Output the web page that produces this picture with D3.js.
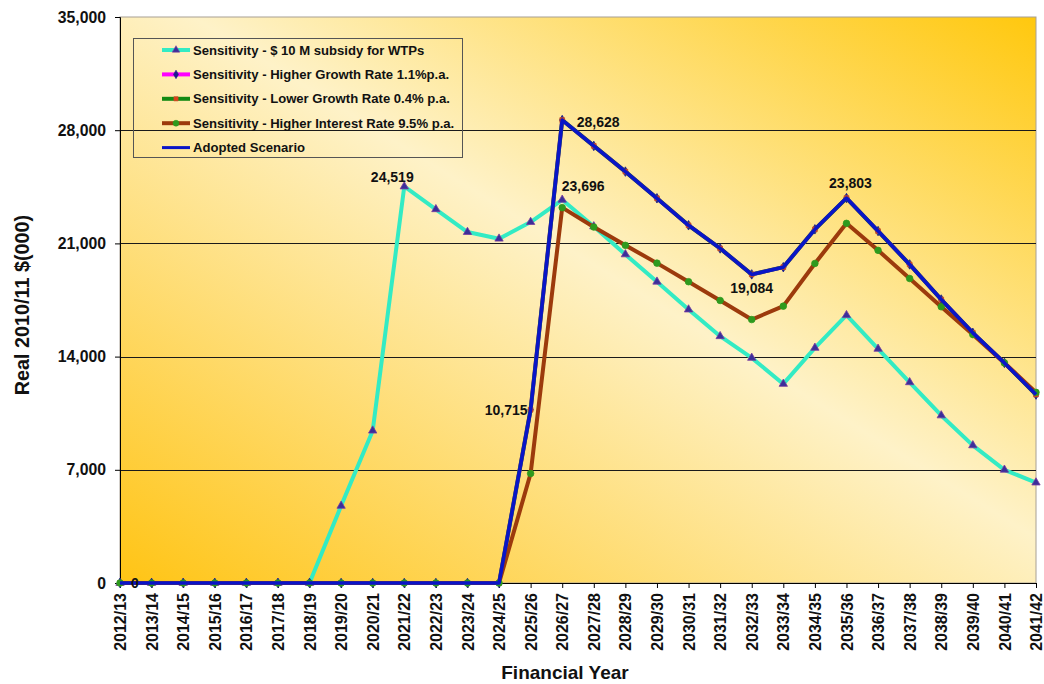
<!DOCTYPE html>
<html>
<head>
<meta charset="utf-8">
<script src="https://cdn.jsdelivr.net/npm/d3@7"></script>
<style>
  body { margin: 0; background: #ffffff; }
  svg { display: block; font-family: "Liberation Sans", Arial, sans-serif; }
</style>
</head>
<body>
<svg id="chart" width="1044" height="684"></svg>
<script>
// Financial years on the x axis
const years = ["2012/13","2013/14","2014/15","2015/16","2016/17","2017/18","2018/19","2019/20",
  "2020/21","2021/22","2022/23","2023/24","2024/25","2025/26","2026/27","2027/28","2028/29",
  "2029/30","2030/31","2031/32","2032/33","2033/34","2034/35","2035/36","2036/37","2037/38",
  "2038/39","2039/40","2040/41","2041/42"];

const yTicks = [0, 7000, 14000, 21000, 28000, 35000];

// Real 2010/11 $(000) per scenario
const subsidyWTP = [0,0,0,0,0,0,0,4770,9420,24519,23110,21700,21290,22320,23696,22050,20320,
  18630,16910,15260,13920,12310,14540,16560,14480,12410,10360,8510,7000,6210];
const higherGrowth = [0,0,0,0,0,0,0,0,0,0,0,0,0,10715,28628,27030,25440,23790,22120,20690,
  19084,19530,21870,23803,21760,19700,17530,15470,13610,11650];
const lowerGrowth = [0,0,0,0,0,0,0,0,0,0,0,0,0,10715,28628,27030,25440,23790,22120,20690,
  19084,19530,21870,23803,21760,19700,17530,15470,13610,11650];
const higherInterest = [0,0,0,0,0,0,0,0,0,0,0,0,0,6770,23210,22010,20880,19780,18630,17470,
  16290,17120,19760,22240,20570,18830,17080,15360,13610,11790];
const adopted = [0,0,0,0,0,0,0,0,0,0,0,0,0,10715,28628,27030,25440,23790,22120,20690,
  19084,19530,21870,23803,21760,19700,17530,15470,13610,11650];

const seriesNames = [
  "Sensitivity - $ 10 M subsidy for WTPs",
  "Sensitivity - Higher Growth Rate 1.1%p.a.",
  "Sensitivity - Lower Growth Rate 0.4% p.a.",
  "Sensitivity - Higher Interest Rate 9.5% p.a.",
  "Adopted Scenario"
];

const series = [
  { name: seriesNames[0], values: subsidyWTP, line: "#33EBC4", width: 4, marker: "triangle", mFill: "#3a2f9a", mStroke: "#7a3aa0" },
  { name: seriesNames[1], values: higherGrowth, line: "#FF00FF", width: 4, marker: "diamond", mFill: "#1a1a8c", mStroke: "#1a1a8c" },
  { name: seriesNames[2], values: lowerGrowth, line: "#138A13", width: 4, marker: "square", mFill: "#E0401A", mStroke: "#C0502a" },
  { name: seriesNames[3], values: higherInterest, line: "#9C3A0C", width: 4, marker: "circle", mFill: "#2E9A1E", mStroke: "#2E9A1E" },
  { name: seriesNames[4], values: adopted, line: "#0A14C8", width: 3.6, marker: null }
];

// Value labels on selected points: [series index, category, value, dx, dy, anchor]
const pointLabels = [
  [0, "2021/22", 24519, -12, -4, "middle"],
  [0, "2026/27", 23696, 21, -9, "middle"],
  [4, "2026/27", 28628, 36, 7, "middle"],
  [4, "2032/33", 19084, 0, 19, "middle"],
  [4, "2035/36", 23803, 4, -10, "middle"],
  [4, "2025/26", 10715, -3, 5, "end"],
  [4, "2012/13", 0, 11, 5, "start"]
];

const svg = d3.select("#chart");
const margin = { left: 120, top: 17, right: 8, bottom: 101 };
const W = 1044, H = 684;
const iw = W - margin.left - margin.right;
const ih = H - margin.top - margin.bottom;

const x = d3.scalePoint().domain(years).range([0, iw]).padding(0);
const y = d3.scaleLinear().domain([0, 35000]).range([ih, 0]);

// Plot area background
const defs = svg.append("defs");
const grad = defs.append("linearGradient").attr("id", "plotFill")
  .attr("x1", 0).attr("y1", 1).attr("x2", 1).attr("y2", 0);
grad.append("stop").attr("offset", 0).attr("stop-color", "#FFC414");
grad.append("stop").attr("offset", 0.54).attr("stop-color", "#FEF2C8");
grad.append("stop").attr("offset", 1).attr("stop-color", "#FFC80E");

const g = svg.append("g").attr("transform", `translate(${margin.left},${margin.top})`);

g.append("rect").attr("width", iw).attr("height", ih)
  .attr("fill", "url(#plotFill)").attr("stroke", "#a8a094").attr("stroke-width", 1);

// Horizontal gridlines
g.append("g").selectAll("line").data(yTicks.filter(d => d > 0 && d < 35000)).join("line")
  .attr("x1", 0).attr("x2", iw)
  .attr("y1", d => Math.round(y(d)) + 0.5).attr("y2", d => Math.round(y(d)) + 0.5)
  .attr("stroke", "#1a1a1a").attr("stroke-width", 1);

// Y axis
const yAxis = g.append("g")
  .call(d3.axisLeft(y).tickValues(yTicks).tickSize(5).tickPadding(9).tickFormat(d3.format(",")));
yAxis.select(".domain").attr("stroke", "#000");
yAxis.selectAll(".tick line").attr("stroke", "#000");
yAxis.selectAll("text").attr("font-size", 15.8).attr("font-weight", "bold").attr("fill", "#111")
  .attr("font-family", "Liberation Sans, Arial, sans-serif");

// X axis
const xAxis = g.append("g").attr("transform", `translate(0,${ih})`)
  .call(d3.axisBottom(x).tickSize(5).tickPadding(0));
xAxis.select(".domain").attr("stroke", "#000");
xAxis.selectAll(".tick line").attr("stroke", "#000");
xAxis.selectAll("text")
  .attr("font-size", 16).attr("font-weight", "bold").attr("fill", "#111")
  .attr("font-family", "Liberation Sans, Arial, sans-serif")
  .attr("transform", "translate(0,10) rotate(-90)")
  .attr("text-anchor", "end").attr("dx", 0).attr("dy", "0.35em").attr("y", 0);

// Axis titles
svg.append("text").attr("x", 565).attr("y", 679)
  .attr("text-anchor", "middle").attr("font-size", 19).attr("font-weight", "bold")
  .attr("fill", "#111").text("Financial Year");
svg.append("text").attr("transform", "translate(29,305) rotate(-90)")
  .attr("text-anchor", "middle").attr("font-size", 19.8).attr("font-weight", "bold")
  .attr("fill", "#111").text("Real 2010/11 $(000)");

// Marker drawing helper
const symbolOf = { triangle: d3.symbolTriangle, diamond: d3.symbolDiamond, square: d3.symbolSquare, circle: d3.symbolCircle };
const sizeOf = { triangle: 30, diamond: 26, square: 22, circle: 34 };

function drawMarkers(sel, s, pts) {
  sel.selectAll("path.m").data(pts).join("path").attr("class", "m")
    .attr("transform", d => `translate(${x(d.year)},${y(d.v)})`)
    .attr("d", d3.symbol().type(symbolOf[s.marker]).size(sizeOf[s.marker]))
    .attr("fill", s.mFill).attr("stroke", s.mStroke).attr("stroke-width", 0.8);
}

const lineGen = d3.line().x(d => x(d.year)).y(d => y(d.v));

series.forEach(s => {
  const pts = years.map((yr, i) => ({ year: yr, v: s.values[i] }));
  const sg = g.append("g");
  sg.append("path").datum(pts).attr("d", lineGen)
    .attr("fill", "none").attr("stroke", s.line).attr("stroke-width", s.width)
    .attr("stroke-linejoin", "round");
  if (s.marker) drawMarkers(sg, s, pts);
});

// Point value labels
const fmt = d3.format(",");
g.append("g").selectAll("text").data(pointLabels).join("text")
  .attr("x", d => x(d[1]) + d[3]).attr("y", d => y(d[2]) + d[4])
  .attr("text-anchor", d => d[5])
  .attr("font-size", 14).attr("font-weight", "bold").attr("fill", "#111")
  .text(d => fmt(d[2]));

// Legend
const lg = svg.append("g").attr("transform", "translate(133,38)");
lg.append("rect").attr("x", 0.5).attr("y", 0.5).attr("width", 329).attr("height", 119)
  .attr("fill", "none").attr("stroke", "#555").attr("stroke-width", 1);
series.forEach((s, i) => {
  const row = lg.append("g").attr("transform", `translate(0,${12 + i * 24.4})`);
  row.append("line").attr("x1", 29).attr("x2", 57).attr("y1", 0).attr("y2", 0)
    .attr("stroke", s.line).attr("stroke-width", s.marker ? 4 : 3);
  if (s.marker) {
    row.append("path").attr("transform", "translate(43,0)")
      .attr("d", d3.symbol().type(symbolOf[s.marker]).size(sizeOf[s.marker] * 0.8))
      .attr("fill", s.mFill).attr("stroke", s.mStroke).attr("stroke-width", 0.6);
  }
  row.append("text").attr("x", 60).attr("y", 0).attr("dy", "0.35em")
    .attr("font-size", 13.1).attr("font-weight", "bold").attr("fill", "#111")
    .text(s.name);
});
</script>
</body>
</html>
